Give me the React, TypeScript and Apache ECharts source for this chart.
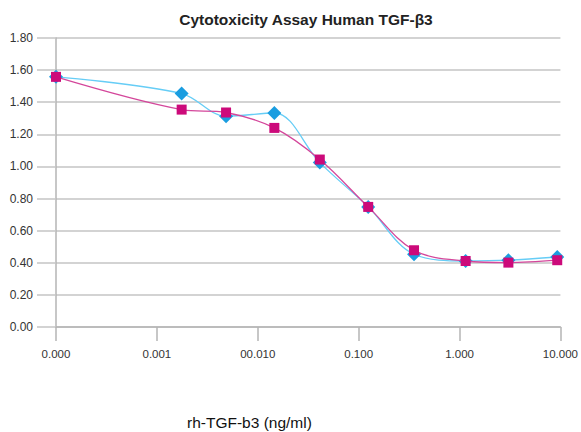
import React, { useEffect, useRef } from "react";
import * as echarts from "echarts";

const titleText = "Cytotoxicity Assay Human TGF-β3";
const xAxisName = "rh-TGF-b3 (ng/ml)";
const xTickLabels = ["0.000", "0.001", "00.010", "0.100", "1.000", "10.000"];
const yTickValues = [0, 0.2, 0.4, 0.6, 0.8, 1.0, 1.2, 1.4, 1.6, 1.8];
const concentrations = [0.0001, 0.00176, 0.00485, 0.0146, 0.0412, 0.1244, 0.354, 1.15, 3.05, 9.3];
const seriesBlue = [1.558, 1.454, 1.313, 1.333, 1.024, 0.748, 0.453, 0.411, 0.416, 0.436];
const seriesPink = [1.558, 1.354, 1.336, 1.24, 1.043, 0.748, 0.478, 0.411, 0.401, 0.416];

export default function App() {
  const ref = useRef<HTMLDivElement>(null);
  useEffect(() => {
    if (!ref.current) return;
    const chart = echarts.init(ref.current, null, { renderer: "svg" });
    const font = "Helvetica, 'Liberation Sans', Arial, sans-serif";
    chart.setOption({
      animation: false,
      backgroundColor: "#fff",
      title: {
        text: titleText,
        left: 301,
        textAlign: "center",
        top: 6,
        textStyle: { fontFamily: font, fontSize: 15.5, fontWeight: "bold", color: "#222" },
      },
      grid: { left: 56, right: 16, top: 38, bottom: 105, containLabel: false },
      xAxis: {
        type: "log",
        logBase: 10,
        min: 0.0001,
        max: 10,
        axisLine: { show: true, lineStyle: { color: "#b5b5b5", width: 1.5 } },
        axisTick: { show: true, length: 14, lineStyle: { color: "#b5b5b5", width: 1.5 } },
        axisLabel: {
          fontFamily: font,
          fontSize: 11.5,
          color: "#333",
          margin: 21,
          formatter: (_v: number, i: number) => xTickLabels[i] ?? "",
        },
        splitLine: { show: false },
        minorTick: { show: false },
      },
      yAxis: {
        type: "value",
        min: 0,
        max: 1.8,
        interval: 0.2,
        axisLine: { show: true, lineStyle: { color: "#b5b5b5", width: 1.5 } },
        axisTick: { show: true, length: 19, lineStyle: { color: "#c4c4c4", width: 1.5 } },
        axisLabel: {
          fontFamily: font,
          fontSize: 12,
          color: "#333",
          margin: 23,
          formatter: (v: number) => {
            const near = yTickValues.find((t) => Math.abs(t - v) < 1e-6);
            return (near ?? v).toFixed(2);
          },
        },
        splitLine: { show: true, lineStyle: { color: "#c4c4c4", width: 1.5 } },
      },
      graphic: [
        {
          type: "text",
          left: 187,
          top: 414,
          style: { text: xAxisName, font: `15.5px ${font}`, fill: "#111" },
        },
      ],
      series: [
        {
          type: "line",
          name: "A",
          smooth: 0.35,
          data: concentrations.map((c, i) => [c, seriesBlue[i]]),
          symbol: "diamond",
          symbolSize: 14,
          lineStyle: { color: "#66cdf6", width: 1.3 },
          itemStyle: { color: "#1a9de0" },
          z: 2,
        },
        {
          type: "line",
          name: "B",
          smooth: 0.35,
          data: concentrations.map((c, i) => [c, seriesPink[i]]),
          symbol: "rect",
          symbolSize: 10,
          lineStyle: { color: "#d4479b", width: 1.3 },
          itemStyle: { color: "#cc0a7a" },
          z: 3,
        },
      ],
    });
    return () => chart.dispose();
  }, []);
  return <div ref={ref} style={{ width: 581, height: 432, position: "absolute", left: 0, top: 0 }} />;
}
